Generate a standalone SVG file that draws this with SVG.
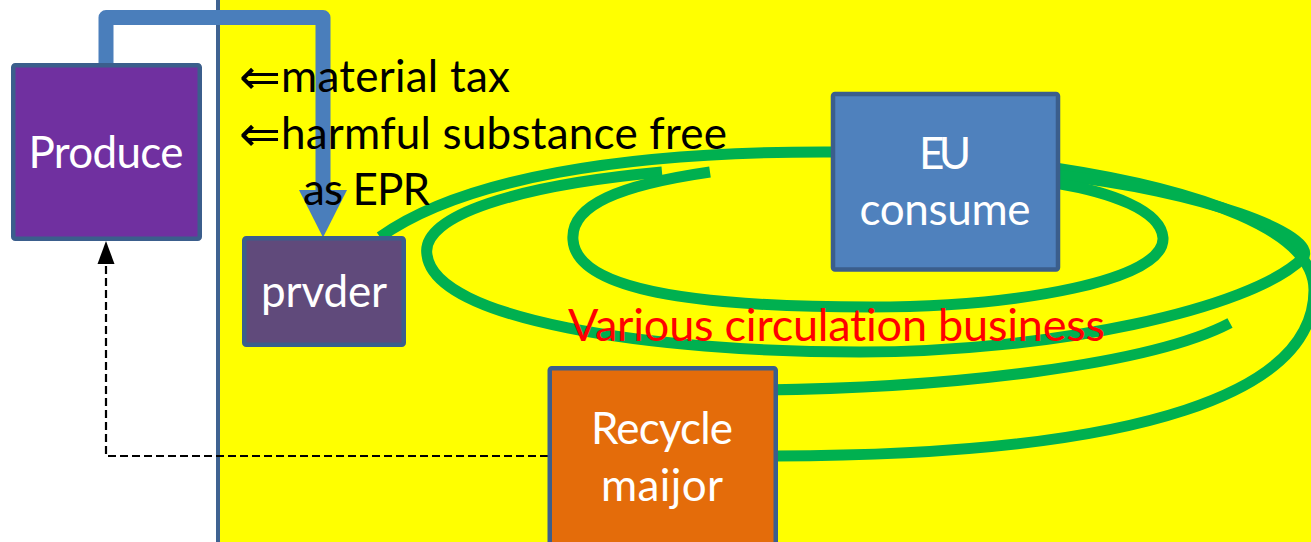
<svg xmlns="http://www.w3.org/2000/svg" width="1311" height="542" viewBox="0 0 1311 542">
  <defs>
    <style>
      text { font-variant-ligatures: none; }
      .box { stroke: #3B5E8C; stroke-width: 4.5; }
      .loop { fill: none; stroke: #00B050; stroke-width: 11; stroke-linecap: butt; }
      .nodetext { font-family: Lato, "Open Sans", sans-serif; font-size: 44px; fill: #FFFFFF; text-anchor: middle; }
      .note { font-family: Lato, "Open Sans", sans-serif; font-size: 44px; fill: #000000; }
      .arrowglyph { font-family: "DejaVu Sans", sans-serif; font-size: 50px; fill: #000000; }
      .business { font-family: Lato, "Open Sans", sans-serif; font-size: 45px; fill: #FF0000; }
    </style>
  </defs>

  <!-- background: white margin on the left, yellow field on the right -->
  <rect x="0" y="0" width="1311" height="542" fill="#FFFFFF"/>
  <rect x="218" y="0" width="1093" height="542" fill="#FFFF00"/>
  <line x1="218" y1="0" x2="218" y2="542" stroke="#3F6391" stroke-width="4"/>

  <g id="connectors">
    <!-- circulation loops -->
    <path class="loop" d="M380,237 C460,180 620,150 845,152"/>
    <path class="loop" d="M1055,168 C1200,190 1314,230 1314,290 C1314,390 1150,455 776,456"/>
    <path class="loop" d="M662,172 C520,185 420,215 427,255 C435,320 650,352 860,352 C1050,352 1250,310 1303,258 C1320,235 1200,190 1055,175"/>
    <path class="loop" d="M710,172 C620,185 570,205 573,240 C577,295 720,307 870,307 C1020,307 1165,280 1163,238 C1161,210 1110,192 1055,183"/>
    <path class="loop" d="M763,390 C950,388 1150,365 1230,323"/>

    <!-- flow from Produce to prvder -->
    <path d="M106,66 V17.5 H323 V192" fill="none" stroke="#4A7EBB" stroke-width="15" stroke-linejoin="round"/>
    <polygon points="299,190 347,190 323,237.5" fill="#4A7EBB"/>

    <!-- return path from Recycle maijor back to Produce -->
    <path d="M548,456 H106 V263" fill="none" stroke="#000000" stroke-width="2.2" stroke-dasharray="8 4"/>
    <polygon points="97.5,264 114.5,264 106,241" fill="#000000"/>
  </g>

  <g id="produce">
    <rect class="box" x="13.25" y="65.25" width="186.5" height="173.5" rx="2" fill="#7030A0"/>
    <text class="nodetext" x="106" y="168" textLength="155">Produce</text>
  </g>

  <g id="prvder">
    <rect class="box" x="244.25" y="238.25" width="159.5" height="106.5" rx="2" fill="#604A7B"/>
    <text class="nodetext" x="324" y="307" textLength="126">prvder</text>
  </g>

  <g id="eu-consume">
    <rect class="box" x="833" y="94" width="225" height="175.5" rx="2" fill="#4F81BD"/>
    <text class="nodetext" x="945" y="169" textLength="52">EU</text>
    <text class="nodetext" x="945" y="225" textLength="171">consume</text>
  </g>

  <g id="recycle-maijor">
    <rect class="box" x="549.75" y="368.25" width="226" height="200" rx="2" fill="#E46C0A"/>
    <text class="nodetext" x="662" y="444" textLength="142">Recycle</text>
    <text class="nodetext" x="662" y="501" textLength="122">maijor</text>
  </g>

  <g id="labels">
    <text x="239" y="94"><tspan class="arrowglyph">⇐</tspan><tspan class="note" x="281" y="92" textLength="229">material tax</tspan></text>
    <text x="239" y="151"><tspan class="arrowglyph">⇐</tspan><tspan class="note" x="281" y="149" textLength="446">harmful substance free</tspan></text>
    <text class="note" x="303" y="205" textLength="127">as EPR</text>
    <text class="business" x="568" y="341" textLength="537">Various circulation business</text>
  </g>
</svg>
